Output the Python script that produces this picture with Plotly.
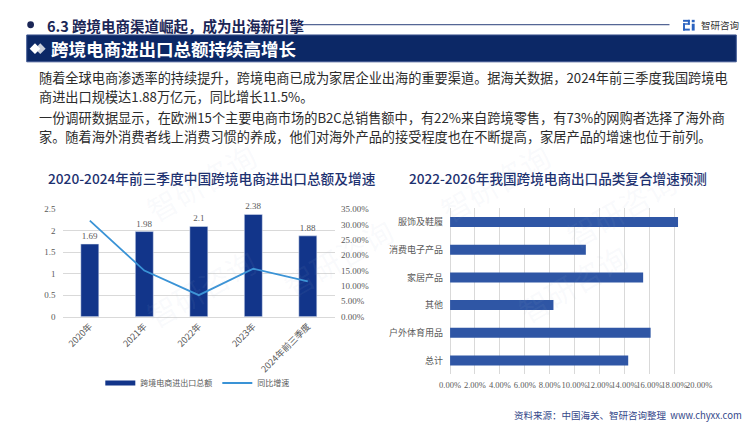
import plotly.graph_objects as go

# ---------------- data ----------------
years = ["2020年", "2021年", "2022年", "2023年", "2024年前三季度"]
totals = [1.69, 1.98, 2.1, 2.38, 1.88]          # 万亿元
growth = [0.313, 0.150, 0.070, 0.156, 0.115]     # 同比增速

cats = ["服饰及鞋履", "消费电子产品", "家居产品", "其他", "户外体育用品", "总计"]
cagr = [0.183, 0.109, 0.155, 0.083, 0.161, 0.143]

left_ticks_y2 = [0, 0.05, 0.10, 0.15, 0.20, 0.25, 0.30, 0.35]

header = "6.3 跨境电商渠道崛起，成为出海新引擎"
banner = "跨境电商进出口总额持续高增长"
para_lines = [
    "随着全球电商渗透率的持续提升，跨境电商已成为家居企业出海的重要渠道。据海关数据，2024年前三季度我国跨境电",
    "商进出口规模达1.88万亿元，同比增长11.5%。",
    "一份调研数据显示，在欧洲15个主要电商市场的B2C总销售额中，有22%来自跨境零售，有73%的网购者选择了海外商",
    "家。随着海外消费者线上消费习惯的养成，他们对海外产品的接受程度也在不断提高，家居产品的增速也位于前列。",
]
title_left = "2020-2024年前三季度中国跨境电商进出口总额及增速"
title_right = "2022-2026年我国跨境电商出口品类复合增速预测"
source = "资料来源：中国海关、智研咨询整理  www.chyxx.com"

# ---------------- style ----------------
W, H = 750, 422
CJK = "Noto Sans CJK SC, Noto Sans, sans-serif"
SERIF = "Liberation Serif, serif"
NAVY = "#0c2866"
BAR_L = "#12358a"
BAR_R = "#2f56a5"
LINE = "#3a93d6"
GRID = "#d9d9d9"
TICK = "#595959"


def fx(x):
    return x / W


def fy(y):
    return 1 - y / H


fig = go.Figure()

fig.add_trace(go.Bar(
    x=years, y=totals, xaxis="x", yaxis="y", width=0.33,
    marker=dict(color=BAR_L), texttemplate="%{y}", textposition="outside",
    textfont=dict(size=9, color=TICK, family=SERIF), cliponaxis=False,
    showlegend=False, name="跨境电商进出口总额",
))
# legend entry for the bar series (short thick line like the reference)
fig.add_trace(go.Scatter(
    x=[None], y=[None], xaxis="x", yaxis="y", mode="lines",
    line=dict(color=BAR_L, width=5), name="跨境电商进出口总额", legendrank=1,
))
fig.add_trace(go.Scatter(
    x=years, y=growth, xaxis="x", yaxis="y2", mode="lines",
    line=dict(color=LINE, width=1.8), name="同比增速", legendrank=2,
))
fig.add_trace(go.Bar(
    x=cagr, y=cats, orientation="h", xaxis="x3", yaxis="y3", width=0.36,
    marker=dict(color=BAR_R, line=dict(width=0)), showlegend=False,
))

shapes = [
    dict(type="circle", xref="paper", yref="paper",
         x0=fx(8.5), x1=fx(15.5), y0=fy(15.5), y1=fy(8.5),
         fillcolor="#1b2656", line=dict(width=0)),
    dict(type="line", xref="paper", yref="paper",
         x0=fx(292), x1=fx(672), y0=fy(12), y1=fy(12),
         line=dict(color="#2a3f7a", width=1)),
    dict(type="rect", xref="paper", yref="paper",
         x0=fx(8), x1=fx(741), y0=fy(50), y1=fy(22.5),
         fillcolor=NAVY, line=dict(color="#3d5590", width=1)),
]


def diamond(cx, cy, r, color):
    p = f"M {fx(cx - r)},{fy(cy)} L {fx(cx)},{fy(cy - r)} L {fx(cx + r)},{fy(cy)} L {fx(cx)},{fy(cy + r)} Z"
    return dict(type="path", xref="paper", yref="paper", path=p,
                fillcolor=color, line=dict(width=0))


shapes.append(diamond(22, 36.5, 5.5, "#c9cfdb"))
shapes.append(diamond(16.5, 36.5, 5.5, "#ffffff"))

# small logo
LOGO = "#2b63c0"
for (a, b, c, d) in [(686, 7, 693, 9), (691, 7, 693, 12), (686, 10.5, 693, 12),
                     (686, 10.5, 688, 18), (686, 16, 693, 18),
                     (695, 7, 698, 9.5), (695, 11, 698, 18)]:
    shapes.append(dict(type="rect", xref="paper", yref="paper",
                       x0=fx(a), x1=fx(c), y0=fy(d), y1=fy(b),
                       fillcolor=LOGO, line=dict(width=0)))

annotations = [
    dict(text=header, x=fx(27), y=fy(12.5), xref="paper", yref="paper",
         xanchor="left", yanchor="middle", showarrow=False,
         font=dict(family=CJK, size=14.5, color="#1b2656", weight="bold")),
    dict(text="智研咨询", x=fx(702), y=fy(12.5), xref="paper", yref="paper",
         xanchor="left", yanchor="middle", showarrow=False,
         font=dict(family=CJK, size=9.5, color="#333333")),
    dict(text=banner, x=fx(31), y=fy(36.5), xref="paper", yref="paper",
         xanchor="left", yanchor="middle", showarrow=False,
         font=dict(family=CJK, size=17.5, color="#ffffff", weight="bold")),
    dict(text=title_left, x=fx(28), y=fy(169), xref="paper", yref="paper",
         xanchor="left", yanchor="middle", showarrow=False,
         font=dict(family=CJK, size=13.7, color="#1d3170", weight=500)),
    dict(text=title_right, x=fx(401), y=fy(169), xref="paper", yref="paper",
         xanchor="left", yanchor="middle", showarrow=False,
         font=dict(family=CJK, size=13.6, color="#1d3170", weight=500)),
    dict(text=source, x=fx(749), y=fy(412), xref="paper", yref="paper",
         xanchor="right", yanchor="middle", showarrow=False,
         font=dict(family=CJK, size=9.5, color="#34488a")),
]
for txt, yy in zip(para_lines, [66, 85.5, 107, 126.5]):
    annotations.append(dict(text=txt, x=fx(19), y=fy(yy), xref="paper", yref="paper",
                            xanchor="left", yanchor="middle", showarrow=False,
                            font=dict(family=CJK, size=13.2, color="#2b2b2b")))

# very faint watermarks
for (wx, wy) in [(120, 335), (640, 330), (330, 250), (690, 200), (560, 120), (120, 120)]:
    annotations.append(dict(text="智研咨询", x=fx(wx), y=fy(wy), xref="paper", yref="paper",
                            showarrow=False, textangle=-30,
                            font=dict(family=CJK, size=30, color="rgba(170,185,210,0.07)")))

fig.update_layout(
    width=W, height=H, margin=dict(l=0, r=0, t=0, b=0),
    paper_bgcolor="#ffffff", plot_bgcolor="rgba(0,0,0,0)",
    shapes=shapes, annotations=annotations,
    font=dict(family=CJK, color=TICK),
    xaxis=dict(domain=[fx(45), fx(326.5)], anchor="y", tickangle=-45,
               tickfont=dict(family=CJK, size=9, color=TICK),
               showgrid=False, showline=True, linecolor=GRID, ticks="",
               fixedrange=True),
    yaxis=dict(domain=[fy(311), fy(201)], anchor="x", range=[0, 2.5], dtick=0.5,
               gridcolor=GRID, zeroline=False, showline=False,
               tickfont=dict(family=SERIF, size=9, color=TICK), ticklabelstandoff=6),
    yaxis2=dict(overlaying="y", side="right", anchor="x", range=[0, 0.35],
                tickvals=left_ticks_y2, tickformat=".2%", showgrid=False,
                zeroline=False, showline=False,
                tickfont=dict(family=SERIF, size=9, color=TICK), ticklabelstandoff=5),
    xaxis3=dict(domain=[fx(445.3), fx(702.7)], anchor="y3", range=[0, 0.2], dtick=0.02,
                tickformat=".2%", gridcolor=GRID, zeroline=True, zerolinecolor=GRID,
                zerolinewidth=1, showline=False, tickangle=0,
                tickfont=dict(family=SERIF, size=8.5, color=TICK), ticklabelstandoff=4),
    yaxis3=dict(domain=[fy(370), fy(200)], anchor="x3", autorange="reversed",
                showgrid=False, zeroline=False, showline=False, ticks="",
                tickfont=dict(family=CJK, size=9, color=TICK), ticklabelstandoff=6),
    legend=dict(orientation="h", x=fx(84), y=fy(379), xanchor="left", yanchor="middle",
                font=dict(family=CJK, size=8, color=TICK), bgcolor="rgba(0,0,0,0)",
                itemwidth=30, traceorder="normal"),
)

fig.write_html("out.html")
